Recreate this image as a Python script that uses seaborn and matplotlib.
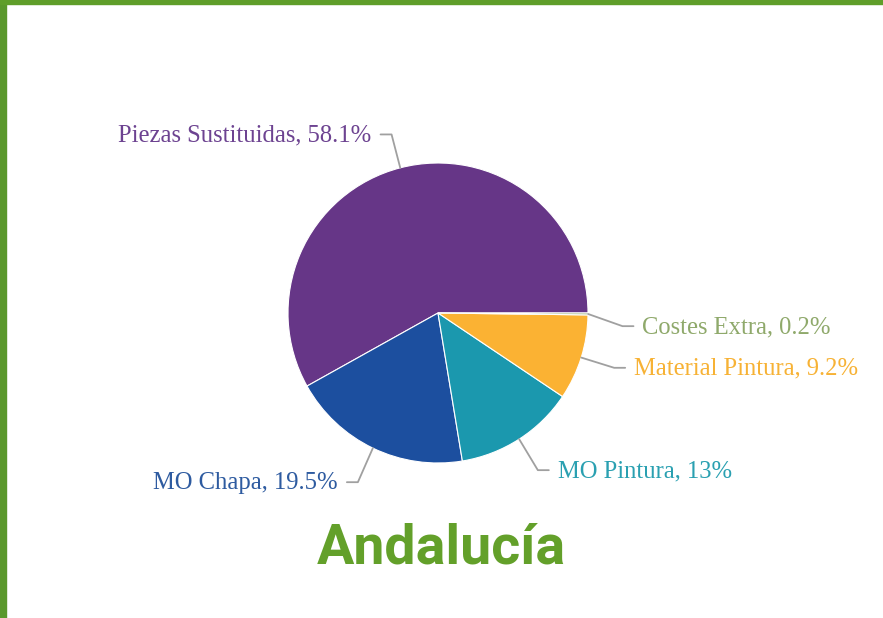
import numpy as np
import matplotlib
matplotlib.use("Agg")
import matplotlib.pyplot as plt
from matplotlib.patches import Rectangle
import seaborn as sns

# Data
categories = ["Piezas Sustituidas", "MO Chapa", "MO Pintura", "Material Pintura", "Costes Extra"]
shares = [58.1, 19.5, 13, 9.2, 0.2]
share_labels = ["58.1%", "19.5%", "13%", "9.2%", "0.2%"]
region = "Andalucía"

slice_colors = ["#663687", "#1c4f9f", "#1b98ae", "#fbb233", "#8fab6a"]
text_colors = ["#6d4391", "#2e5ba0", "#2aa0b1", "#f7b235", "#8fa96b"]

sns.set_theme(style="white")
plt.rcParams["font.family"] = ["Liberation Serif", "DejaVu Serif"]

W, H = 883, 618
fig = plt.figure(figsize=(W / 100, H / 100), dpi=100)
ax = fig.add_axes([0, 0, 1, 1])

cx, cy, r = 438, H - 313, 150
wedges, _ = ax.pie(shares, colors=slice_colors, startangle=0, counterclock=True,
                   center=(cx, cy), radius=r, frame=True,
                   wedgeprops=dict(linewidth=0.8, edgecolor="white"))
ax.set_xlim(0, W)
ax.set_ylim(0, H)
ax.set_aspect("equal")
ax.axis("off")

# leader lines + labels (small vertical nudge so the two tiny right-side labels don't collide)
nudge = [0, -3, -2, 0, -12]
for i, w in enumerate(wedges):
    ang = np.deg2rad((w.theta1 + w.theta2) / 2)
    x0, y0 = cx + r * np.cos(ang), cy + r * np.sin(ang)
    x1, y1 = cx + 1.23 * r * np.cos(ang), cy + 1.23 * r * np.sin(ang) + nudge[i]
    side = 1 if np.cos(ang) >= 0 else -1
    x2 = x1 + side * 11
    ax.plot([x0, x1, x2], [y0, y1, y1], color="#a0a0a0", lw=1.3, solid_capstyle="round")
    ax.text(x2 + side * 9, y1 - 1, f"{categories[i]}, {share_labels[i]}",
            ha="left" if side > 0 else "right", va="center",
            fontsize=17.7, color=text_colors[i])

# title
fig.text(441 / W, 1 - 548 / H, region, ha="center", va="center",
         fontsize=40, fontweight="bold", color="#63a02a", family="Roboto")

# green frame on top and left
fig.patches.append(Rectangle((0, 0), 6 / W, 1, transform=fig.transFigure,
                             color="#5a982c", zorder=5))
fig.patches.append(Rectangle((0, 1 - 4 / H), 1, 4 / H, transform=fig.transFigure,
                             color="#5f9e2a", zorder=5))

fig.savefig("out.png", dpi=100)
